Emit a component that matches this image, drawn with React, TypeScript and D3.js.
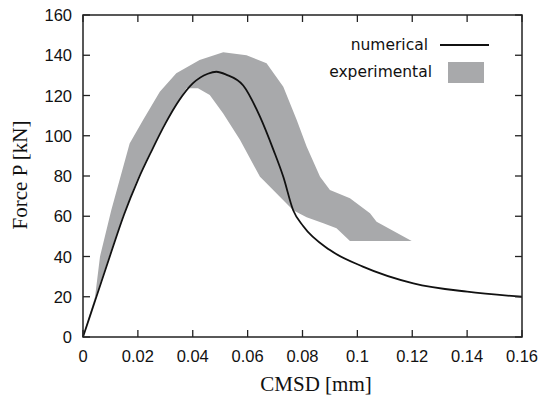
import { useEffect, useRef } from 'react'
import * as d3 from 'd3'

// CMSD [mm] vs force [kN]
const numCmsd = [0, 0.005, 0.01, 0.015, 0.02, 0.025, 0.03, 0.035, 0.04, 0.0455, 0.0486, 0.0522, 0.0584, 0.0645, 0.0694, 0.073, 0.0766, 0.0803, 0.09, 0.102, 0.1204, 0.14, 0.16]
const numForce = [0, 20.5, 41, 61, 78, 92.5, 106, 117.5, 126, 130.8, 131.8, 130.4, 125, 109.5, 93, 79.6, 63, 55, 43.2, 35, 26.7, 22.5, 20]

// experimental band: upper edge (left to right), lower edge (right to left)
const expUpperCmsd = [0, 0.0044, 0.0062, 0.0103, 0.017, 0.0219, 0.028, 0.034, 0.0425, 0.0511, 0.0596, 0.0669, 0.073, 0.0779, 0.0815, 0.0864, 0.09, 0.0973, 0.1046, 0.107, 0.1198]
const expUpperForce = [0, 20, 40, 63, 96.2, 107.8, 121.9, 131, 137.6, 141.5, 140, 136, 124.4, 107.8, 94.6, 79.6, 73, 69, 61.5, 57.3, 47.7]
const expLowerCmsd = [0.0973, 0.0924, 0.0876, 0.0815, 0.0766, 0.0657, 0.0645, 0.0572, 0.0511, 0.0462, 0.0419, 0.0377, 0.0295, 0.0245, 0.0195, 0.0145, 0.0095, 0.0046, 0]
const expLowerForce = [47.7, 54, 56.5, 59.5, 63, 78, 79.6, 98, 111, 120.2, 123.6, 123.6, 105.5, 92, 77.5, 60, 40, 20, 0]

const xTicks = [0, 0.02, 0.04, 0.06, 0.08, 0.1, 0.12, 0.14, 0.16]
const yTicks = [0, 20, 40, 60, 80, 100, 120, 140, 160]

export default function App() {
  const ref = useRef<SVGSVGElement>(null)

  useEffect(() => {
    const svg = d3.select(ref.current)
    svg.selectAll('*').remove()

    const x = d3.scaleLinear().domain([0, 0.16]).range([83, 522])
    const y = d3.scaleLinear().domain([0, 160]).range([337, 15])
    const tickFont = '"Liberation Sans", Arial, sans-serif'
    const serif = '"Liberation Serif", "Times New Roman", serif'
    const axisColor = '#222'

    // experimental band
    const band: [number, number][] = [
      ...expUpperCmsd.map((c, i) => [c, expUpperForce[i]] as [number, number]),
      ...expLowerCmsd.map((c, i) => [c, expLowerForce[i]] as [number, number]),
    ]
    svg.append('path')
      .attr('d', d3.line<[number, number]>().x(d => x(d[0])).y(d => y(d[1])).curve(d3.curveLinearClosed)(band) || '')
      .attr('fill', '#a8a9ab')

    // numerical curve
    const pts = numCmsd.map((c, i) => [c, numForce[i]] as [number, number])
    svg.append('path')
      .attr('d', d3.line<[number, number]>().x(d => x(d[0])).y(d => y(d[1])).curve(d3.curveMonotoneX)(pts) || '')
      .attr('fill', 'none')
      .attr('stroke', '#111')
      .attr('stroke-width', 1.8)

    // frame
    svg.append('rect')
      .attr('x', x(0)).attr('y', y(160))
      .attr('width', x(0.16) - x(0)).attr('height', y(0) - y(160))
      .attr('fill', 'none').attr('stroke', axisColor).attr('stroke-width', 1.5)

    const tl = 7
    xTicks.forEach(t => {
      svg.append('line').attr('x1', x(t)).attr('x2', x(t)).attr('y1', y(0)).attr('y2', y(0) - tl)
        .attr('stroke', axisColor).attr('stroke-width', 1.3)
      svg.append('line').attr('x1', x(t)).attr('x2', x(t)).attr('y1', y(160)).attr('y2', y(160) + tl)
        .attr('stroke', axisColor).attr('stroke-width', 1.3)
      svg.append('text').attr('x', x(t)).attr('y', 362)
        .attr('text-anchor', 'middle').attr('font-family', tickFont).attr('font-size', 16.5)
        .attr('fill', '#111').text(String(t))
    })
    yTicks.forEach(t => {
      svg.append('line').attr('x1', x(0)).attr('x2', x(0) + tl).attr('y1', y(t)).attr('y2', y(t))
        .attr('stroke', axisColor).attr('stroke-width', 1.3)
      svg.append('line').attr('x1', x(0.16)).attr('x2', x(0.16) - tl).attr('y1', y(t)).attr('y2', y(t))
        .attr('stroke', axisColor).attr('stroke-width', 1.3)
      svg.append('text').attr('x', 72).attr('y', y(t) + 6)
        .attr('text-anchor', 'end').attr('font-family', tickFont).attr('font-size', 16.5)
        .attr('fill', '#111').text(String(t))
    })

    // axis titles
    svg.append('text').attr('x', 316).attr('y', 391)
      .attr('text-anchor', 'middle').attr('font-family', serif).attr('font-size', 21)
      .attr('fill', '#111').text('CMSD [mm]')
    svg.append('text').attr('transform', 'translate(27,175) rotate(-90)')
      .attr('text-anchor', 'middle').attr('font-family', serif).attr('font-size', 21)
      .attr('fill', '#111').text('Force P [kN]')

    // legend
    const legFont = '"DejaVu Sans", sans-serif'
    svg.append('text').attr('x', 428).attr('y', 50)
      .attr('text-anchor', 'end').attr('font-family', legFont).attr('font-size', 15.5)
      .attr('fill', '#111').text('numerical')
    svg.append('line').attr('x1', 440).attr('x2', 489).attr('y1', 45).attr('y2', 45)
      .attr('stroke', '#111').attr('stroke-width', 1.8)
    svg.append('text').attr('x', 432).attr('y', 77)
      .attr('text-anchor', 'end').attr('font-family', legFont).attr('font-size', 15.5)
      .attr('fill', '#111').text('experimental')
    svg.append('rect').attr('x', 448).attr('y', 62).attr('width', 36).attr('height', 21)
      .attr('fill', '#a8a9ab')
  }, [])

  return (
    <svg ref={ref} width={542} height={398}
      style={{ position: 'absolute', left: 0, top: 0, background: '#fff' }} />
  )
}
